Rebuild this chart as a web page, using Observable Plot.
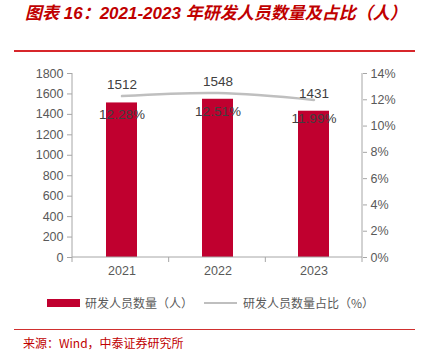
<!DOCTYPE html>
<html>
<head>
<meta charset="utf-8">
<script src="https://cdn.jsdelivr.net/npm/d3@7"></script>
<script src="https://cdn.jsdelivr.net/npm/@observablehq/plot@0.6"></script>
<style>
  html, body { margin: 0; padding: 0; background: #fff; }
  body { width: 423px; height: 355px; position: relative; overflow: hidden; font-family: "Liberation Sans", Arial, "Noto Sans CJK SC", sans-serif; }
  .abs { position: absolute; white-space: nowrap; }
  #title { left: 25px; top: 3px; font-size: 17px; line-height: 22px; font-weight: bold; font-style: italic; color: #c00000; font-family: "Liberation Sans", Arial, "Noto Sans CJK SC", sans-serif; }
  #topline { left: 14px; top: 50px; width: 401px; height: 2px; background: #d7262b; }
  #chart { left: 0; top: 52px; }
  .lg { font-size: 12px; line-height: 16px; color: #595959; font-family: "Noto Sans CJK SC", sans-serif; top: 295px; }
  #botline { left: 14px; top: 329px; width: 401px; height: 1px; background: #d0302f; }
  #source { left: 23px; top: 335px; font-size: 12px; line-height: 16px; color: #c00000; font-family: "Noto Sans CJK SC", "Liberation Sans", sans-serif; }
</style>
</head>
<body>
<div id="title" class="abs">图表 16：2021-2023 年研发人员数量及占比（人）</div>
<div id="topline" class="abs"></div>
<div id="chart" class="abs"></div>
<div class="abs" style="left:47px;top:299px;width:33px;height:8px;background:#c0002f"></div>
<div class="abs lg" style="left:85px">研发人员数量（人）</div>
<div class="abs" style="left:204px;top:302px;width:33px;height:2px;background:#bfbfbf"></div>
<div class="abs lg" style="left:243px">研发人员数量占比（%）</div>
<div id="botline" class="abs"></div>
<div id="source" class="abs">来源：Wind，中泰证券研究所</div>
<script>
const years = ["2021", "2022", "2023"];
const counts = [1512, 1548, 1431];
const shares = [12.28, 12.51, 11.99];
const leftTicks = [0, 200, 400, 600, 800, 1000, 1200, 1400, 1600, 1800];
const rightTicks = [0, 2, 4, 6, 8, 10, 12, 14];
const leftMax = 1800;
const rightMax = 14;

const toLeft = p => p * leftMax / rightMax;
const data = years.map((y, i) => ({year: y, count: counts[i], share: shares[i], shareY: toLeft(shares[i])}));

const axisColor = "#a6a6a6";
const textColor = "#595959";

// axis lines and category boundary ticks drawn from the frame dimensions
function axisFrame(index, scales, values, dims) {
  const {width, height, marginLeft, marginRight, marginTop, marginBottom} = dims;
  const l = marginLeft, r = width - marginRight, t = marginTop, b = height - marginBottom;
  const g = d3.create("svg:g").attr("stroke", axisColor).attr("stroke-width", 1).attr("fill", "none");
  g.append("line").attr("x1", l).attr("x2", l).attr("y1", t).attr("y2", b + 5);
  g.append("line").attr("x1", r).attr("x2", r).attr("y1", t).attr("y2", b + 5);
  g.append("line").attr("x1", l).attr("x2", r).attr("y1", b).attr("y2", b);
  const n = years.length, step = (r - l) / n;
  for (let i = 1; i < n; i++) {
    g.append("line").attr("x1", l + i * step).attr("x2", l + i * step).attr("y1", b).attr("y2", b + 5);
  }
  return g.node();
}

const plot = Plot.plot({
  width: 423,
  height: 238,
  marginTop: 21,
  marginBottom: 33,
  marginLeft: 72,
  marginRight: 61,
  style: {fontFamily: "'Liberation Sans', Arial, sans-serif", fontSize: "12.5px", color: textColor, background: "transparent"},
  x: {domain: years, paddingInner: 0.68, paddingOuter: 0.34, label: null},
  y: {domain: [0, leftMax], label: null},
  marks: [
    Plot.barY(data, {x: "year", y: "count", fill: "#c0002f"}),
    Plot.line(data, {x: "year", y: "shareY", stroke: "#bfbfbf", strokeWidth: 2.5, curve: "catmull-rom"}),
    Plot.text(data, {x: "year", y: "count", text: d => String(d.count), dy: -18, fill: "#404040", fontSize: 13.5}),
    Plot.text(data, {x: "year", y: "shareY", text: d => d.share.toFixed(2) + "%", dy: 19, fill: "#404040", fontSize: 13.5}),
    axisFrame,
    Plot.axisY(leftTicks, {anchor: "left", tickSize: 5, tickPadding: 4, stroke: axisColor, fill: textColor, tickFormat: d => String(d), label: null}),
    Plot.axisY(rightTicks.map(toLeft), {anchor: "right", tickSize: 4, tickPadding: 4, stroke: axisColor, fill: textColor, tickFormat: d => Math.round(d * rightMax / leftMax) + "%", label: null}),
    Plot.axisX({tickSize: 0, tickPadding: 9, fill: textColor, label: null})
  ]
});
document.getElementById("chart").appendChild(plot);
</script>
</body>
</html>
